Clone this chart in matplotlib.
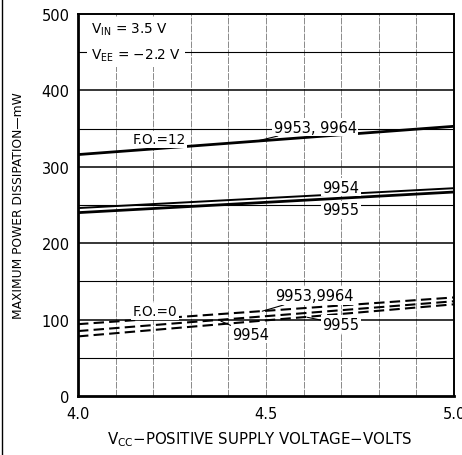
import matplotlib
matplotlib.use("Agg")
import matplotlib.pyplot as plt
from matplotlib.lines import Line2D

# Data
vcc = [4.0, 5.0]
fo12_9953_9964 = [316, 353]
fo12_9954 = [246, 272]
fo12_9955 = [240, 267]
fo0_9953_9964 = [94, 129]
fo0_9954 = [85, 124]
fo0_9955 = [78, 120]

xticks = [4.0, 4.5, 5.0]
xticklabels = ["4.0", "4.5", "5.0"]
yticks = [0, 100, 200, 300, 400, 500]

fig = plt.figure(figsize=(4.62, 4.56), dpi=100)
ax = fig.add_axes([78/462, 1-397/456, (454-78)/462, (397-15)/456])
ax.set_xlim(4.0, 5.0)
ax.set_ylim(0, 500)

# grid
for v in [4.1, 4.2, 4.3, 4.4, 4.5, 4.6, 4.7, 4.8, 4.9]:
    ax.axvline(v, color="#777777", lw=0.6, ls=(0, (8, 1.5)), zorder=1)
for h in [50, 150, 250, 350, 450]:
    ax.axhline(h, color="black", lw=0.8, zorder=1)
for h in [100, 200, 300, 400]:
    ax.axhline(h, color="black", lw=1.1, zorder=1)

# solid lines (F.O. = 12)
ax.plot(vcc, fo12_9953_9964, color="black", lw=2.0, zorder=3)
ax.plot(vcc, fo12_9954, color="black", lw=1.4, zorder=3)
ax.plot(vcc, fo12_9955, color="black", lw=2.0, zorder=3)

# dashed lines (F.O. = 0)
dash = (0, (5, 2.5))
ax.plot(vcc, fo0_9953_9964, color="black", lw=1.5, ls=dash, zorder=3)
ax.plot(vcc, fo0_9954, color="black", lw=1.5, ls=dash, zorder=3)
ax.plot(vcc, fo0_9955, color="black", lw=1.5, ls=dash, zorder=3)

for s in ax.spines.values():
    s.set_linewidth(1.4)
ax.spines["left"].set_linewidth(2.0)
ax.spines["bottom"].set_linewidth(2.0)

ax.set_xticks(xticks)
ax.set_xticklabels(xticklabels)
ax.set_yticks(yticks)
ax.tick_params(length=0, labelsize=10.5, pad=6)
ax.tick_params(axis="x", pad=7)

wb = dict(facecolor="white", edgecolor="none", pad=1.0)
fs = 10.5
ax.text(4.035, 480, r"V$_{\mathrm{IN}}$ = 3.5 V", fontsize=9.8, va="center", ha="left",
        bbox=dict(facecolor="white", edgecolor="none", pad=3), zorder=4)
ax.text(4.035, 447, r"V$_{\mathrm{EE}}$ = $-$2.2 V", fontsize=9.8, va="center", ha="left",
        bbox=dict(facecolor="white", edgecolor="none", pad=3), zorder=4)

ax.text(4.145, 336, "F.O.=12", fontsize=9.8, va="center", ha="left", bbox=wb, zorder=4)
ax.annotate("9953, 9964", xy=(4.47, 333), xytext=(4.52, 352), fontsize=fs,
            va="center", ha="left", bbox=wb, zorder=4,
            arrowprops=dict(arrowstyle="-", color="black", lw=0.8, shrinkA=0, shrinkB=0))
ax.text(4.65, 273, "9954", fontsize=fs, va="center", ha="left", bbox=wb, zorder=4)
ax.text(4.65, 244, "9955", fontsize=fs, va="center", ha="left", bbox=wb, zorder=4)

ax.text(4.145, 111, "F.O.=0", fontsize=9.8, va="center", ha="left", bbox=wb, zorder=4)
ax.annotate("9953,9964", xy=(4.49, 111), xytext=(4.525, 131), fontsize=fs,
            va="center", ha="left", bbox=wb, zorder=4,
            arrowprops=dict(arrowstyle="-", color="black", lw=0.8, shrinkA=0, shrinkB=0))
ax.annotate("9954", xy=(4.38, 98), xytext=(4.41, 81), fontsize=fs,
            va="center", ha="left", bbox=wb, zorder=4,
            arrowprops=dict(arrowstyle="-", color="black", lw=0.8, shrinkA=0, shrinkB=0))
ax.annotate("9955", xy=(4.61, 103), xytext=(4.65, 94), fontsize=fs,
            va="center", ha="left", bbox=wb, zorder=4,
            arrowprops=dict(arrowstyle="-", color="black", lw=0.8, shrinkA=0, shrinkB=0))

ax.set_ylabel("MAXIMUM POWER DISSIPATION\u2014mW", fontsize=8.8, labelpad=12)
fig.text(260/462, 1-440/456, r"V$_{\mathrm{CC}}$$-$POSITIVE SUPPLY VOLTAGE$-$VOLTS",
         fontsize=10.8, ha="center", va="center")

# page border line at left
fig.add_artist(Line2D([2/462, 2/462], [0, 1], color="black", lw=1.0, transform=fig.transFigure))

fig.savefig("out.png", dpi=100)
